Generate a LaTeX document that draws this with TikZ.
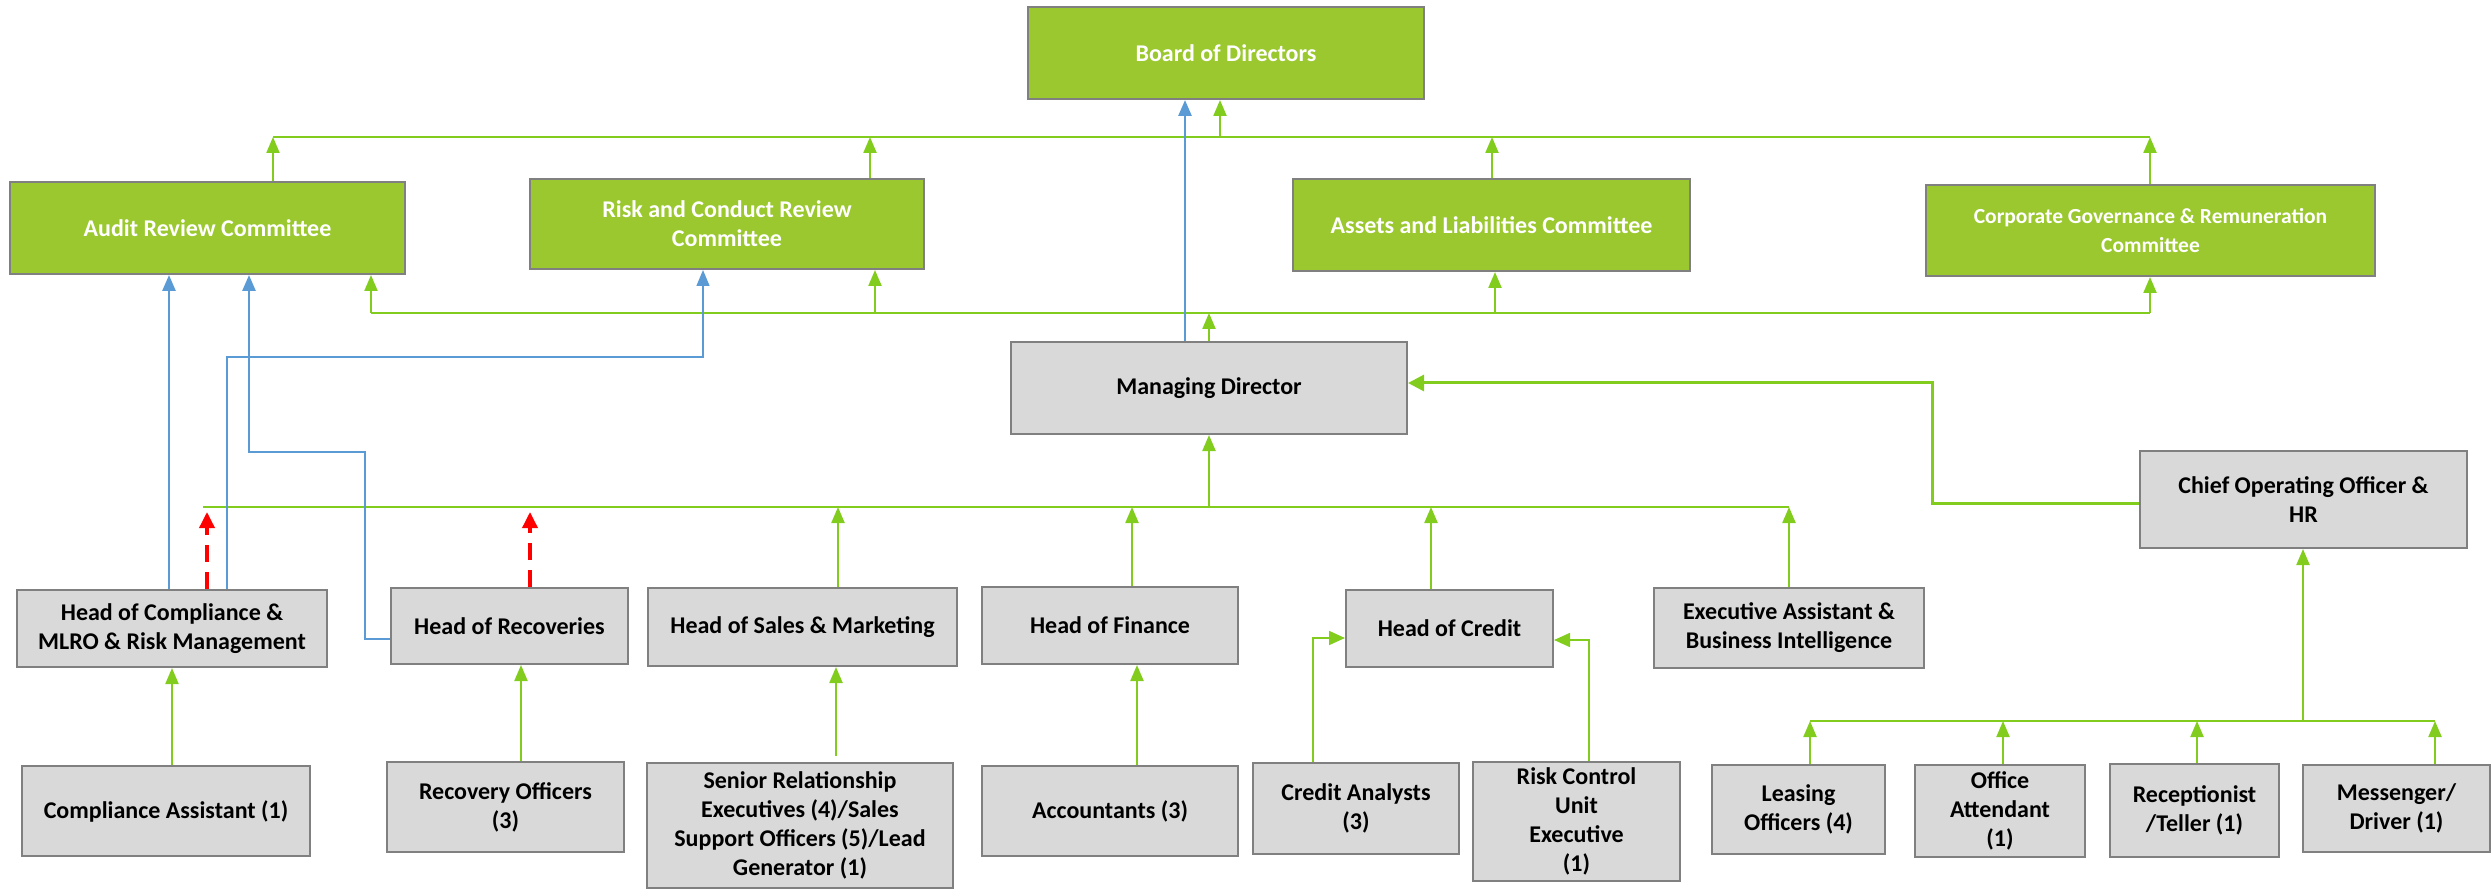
\documentclass[tikz,border=0pt]{standalone}
\usepackage{fontspec}
\setmainfont{Carlito}
\usetikzlibrary{arrows.meta}
\definecolor{gfill}{RGB}{154,200,46}
\definecolor{glin}{RGB}{130,204,30}
\definecolor{blin}{RGB}{91,155,213}
\definecolor{gbox}{RGB}{217,217,217}
\definecolor{bord}{RGB}{128,128,128}
\tikzset{
 basebox/.style={draw=bord, line width=2pt, align=center, inner sep=0pt, font=\fontsize{24}{29}\selectfont\bfseries},
 gnode/.style={basebox, fill=gfill, text=white},
 knode/.style={basebox, fill=gbox, text=black},
 smallfont/.style={font=\fontsize{21.5}{29}\selectfont\bfseries},
 gbus/.style={draw=glin, line width=2.2pt},
 garr/.style={draw=glin, line width=2.2pt, -{Triangle[length=16pt,width=13pt]}},
 garrthin/.style={draw=glin, line width=1.6pt, -{Triangle[length=16pt,width=14pt]}},
 garrbig/.style={draw=glin, line width=3pt, -{Triangle[length=16pt,width=16pt]}},
 barr/.style={draw=blin, line width=2.8pt, -{Triangle[length=16pt,width=13pt]}},
 barrthin/.style={draw=blin, line width=1.4pt, -{Triangle[length=16pt,width=13pt]}},
 rarr/.style={draw=red, line width=3.5pt, dash pattern=on 17pt off 10pt, -{Triangle[length=16pt,width=15pt]}},
}
\begin{document}
\begin{tikzpicture}[x=1pt,y=-1pt]
\useasboundingbox (0,0) rectangle (2492,890);
% green committee boxes
\node[gnode, minimum width=396pt, minimum height=92pt] (board) at (1226,53) {Board of Directors};
\node[gnode, minimum width=395pt, minimum height=92pt] (audit) at (207.5,228) {Audit Review Committee};
\node[gnode, minimum width=394pt, minimum height=90pt] (risk) at (727,224) {Risk and Conduct Review\\Committee};
\node[gnode, minimum width=397pt, minimum height=92pt] (assets) at (1491.5,225) {Assets and Liabilities Committee};
\node[gnode, smallfont, minimum width=449pt, minimum height=91pt] (corp) at (2150.5,230.5) {Corporate Governance \& Remuneration\\Committee};
% grey boxes
\node[knode, minimum width=396pt, minimum height=92pt] (md) at (1209,388) {Managing Director};
\node[knode, minimum width=310pt, minimum height=77pt] (hoc) at (172,628.5) {Head of Compliance \&\\MLRO \& Risk Management};
\node[knode, minimum width=237pt, minimum height=76pt] (hrec) at (509.5,626) {Head of Recoveries};
\node[knode, minimum width=309pt, minimum height=78pt] (sales) at (802.5,627) {Head of Sales \& Marketing};
\node[knode, minimum width=256pt, minimum height=77pt] (fin) at (1110,625.5) {Head of Finance};
\node[knode, minimum width=207pt, minimum height=77pt] (hcred) at (1449.5,628.5) {Head of Credit};
\node[knode, minimum width=270pt, minimum height=80pt] (exec) at (1789,628) {Executive Assistant \&\\Business Intelligence};
\node[knode, minimum width=327pt, minimum height=97pt] (coo) at (2303.5,499.5) {Chief Operating Officer \&\\HR};
\node[knode, minimum width=288pt, minimum height=90pt] (ca) at (166,811) {Compliance Assistant (1)};
\node[knode, minimum width=237pt, minimum height=90pt] (ro) at (505.5,807) {Recovery Officers\\(3)};
\node[knode, minimum width=306pt, minimum height=125pt] (srel) at (800,825.5) {Senior Relationship\\Executives (4)/Sales\\Support Officers (5)/Lead\\Generator (1)};
\node[knode, minimum width=256pt, minimum height=90pt] (acc) at (1110,811) {Accountants (3)};
\node[knode, minimum width=206pt, minimum height=91pt] (cran) at (1356,808.5) {Credit Analysts\\(3)};
\node[knode, minimum width=207pt, minimum height=119pt] (rcu) at (1576.5,821.5) {Risk Control\\Unit\\Executive\\(1)};
\node[knode, minimum width=173pt, minimum height=89pt] (lease) at (1798.5,809.5) {Leasing\\Officers (4)};
\node[knode, minimum width=170pt, minimum height=92pt] (office) at (2000,811) {Office\\Attendant\\(1)};
\node[knode, minimum width=169pt, minimum height=93pt] (recep) at (2194.5,810.5) {Receptionist\\/Teller (1)};
\node[knode, minimum width=187pt, minimum height=87pt] (mess) at (2396.5,808.5) {Messenger/\\Driver (1)};

% top bus
\coordinate (tA) at (273,137); \coordinate (tR) at (870,137); \coordinate (tB) at (1220,137);
\coordinate (tS) at (1492,137); \coordinate (tC) at (2150,137);
\draw[gbus] (tA) -- (tC);
\draw[garr] (tA |- audit.north) -- (tA);
\draw[garr] (tR |- risk.north) -- (tR);
\draw[garr] (tS |- assets.north) -- (tS);
\draw[garr] (tC |- corp.north) -- (tC);
\draw[garr] (tB) -- (tB |- board.south);

% second bus
\coordinate (bA) at (371,313); \coordinate (bR) at (875,313); \coordinate (bM) at (1209,313);
\coordinate (bS) at (1495,313); \coordinate (bC) at (2150,313);
\draw[gbus] (bA) -- (bC);
\draw[garr] (bA) -- (bA |- audit.south);
\draw[garr] (bR) -- (bR |- risk.south);
\draw[garr] (bS) -- (bS |- assets.south);
\draw[garr] (bC) -- (bC |- corp.south);
\draw[garr] (bM |- md.north) -- (bM);

% middle bus
\coordinate (mL) at (203,507); \coordinate (mS) at (838,507); \coordinate (mF) at (1132,507);
\coordinate (mM) at (1209,507); \coordinate (mH) at (1431,507); \coordinate (mE) at (1789,507);
\draw[gbus] (mL) -- (mE);
\draw[garr] (mS |- sales.north) -- (mS);
\draw[garr] (mF |- fin.north) -- (mF);
\draw[garr] (mH |- hcred.north) -- (mH);
\draw[garr] (mE |- exec.north) -- (mE);
\draw[garr] (mM) -- (mM |- md.south);
\coordinate (r1) at (207,512); \coordinate (r2) at (530,512);
\draw[rarr] (r1 |- hoc.north) -- (r1);
\draw[rarr] (r2 |- hrec.north) -- (r2);

% COO to MD
\coordinate (cA) at (1932,503); \coordinate (cB) at (1932,383);
\draw[garrbig] (cA -| coo.west) -- (cA) -- (cB) -- (cB -| md.east);

% bottom right bus
\coordinate (lL) at (1810,721); \coordinate (lO) at (2003,721); \coordinate (lR) at (2197,721);
\coordinate (lC) at (2303,721); \coordinate (lM) at (2435,721);
\draw[gbus] (lL) -- (lM);
\draw[garr] (lL |- lease.north) -- (lL);
\draw[garr] (lO |- office.north) -- (lO);
\draw[garr] (lR |- recep.north) -- (lR);
\draw[garr] (lM |- mess.north) -- (lM);
\draw[garr] (lC) -- (lC |- coo.south);

% credit
\coordinate (k1) at (1313,638); \coordinate (k2) at (1589,640);
\draw[garrthin] (k1 |- cran.north) -- (k1) -- (k1 -| hcred.west);
\draw[garrthin] (k2 |- rcu.north) -- (k2) -- (k2 -| hcred.east);

% lower arrows
\coordinate (u1) at (172,0); \coordinate (u2) at (521,0); \coordinate (u3) at (836,0); \coordinate (u4) at (1137,0);
\draw[garr] (u1 |- ca.north) -- (u1 |- hoc.south);
\draw[garr] (u2 |- ro.north) -- (u2 |- hrec.south);
\draw[garr] ([yshift=6pt]u3 |- srel.north) -- (u3 |- sales.south);
\draw[garr] (u4 |- acc.north) -- (u4 |- fin.south);

% blue
\coordinate (v1) at (169,0); \coordinate (v2) at (1185,0);
\draw[barr] (v1 |- hoc.north) -- (v1 |- audit.south);
\draw[barr] (v2 |- md.north) -- (v2 |- board.south);
\coordinate (w1) at (365,639); \coordinate (w2) at (365,452); \coordinate (w3) at (249,452);
\draw[barr] (w1 -| hrec.west) -- (w1) -- (w2) -- (w3) -- (w3 |- audit.south);
\coordinate (z1) at (227,357); \coordinate (z2) at (703,357);
\draw[barrthin] (z1 |- hoc.north) -- (z1) -- (z2) -- (z2 |- risk.south);
\end{tikzpicture}
\end{document}
